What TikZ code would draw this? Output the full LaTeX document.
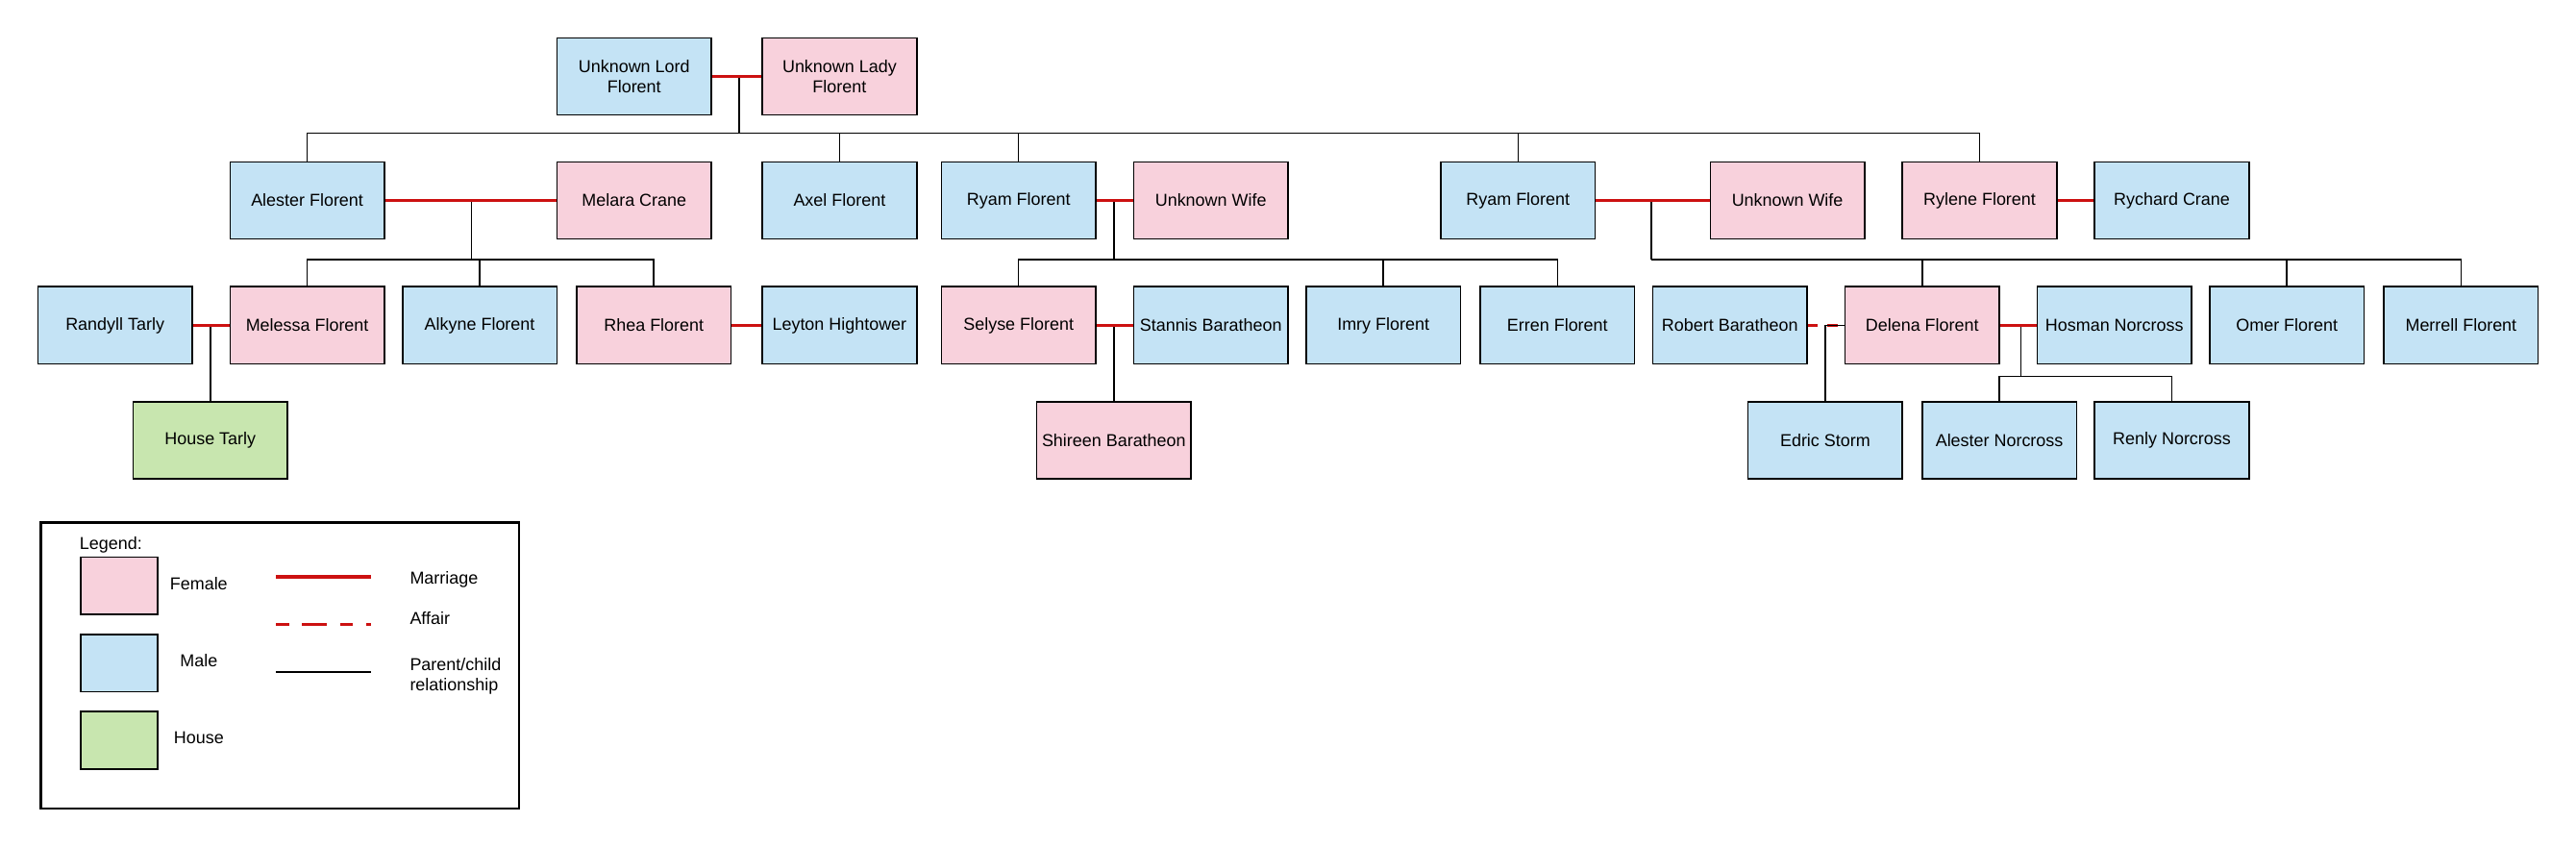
\documentclass[tikz,border=0pt]{standalone}
\usepackage{fontspec}
\setmainfont{Liberation Sans}
\begin{document}
\begin{tikzpicture}[x=1pt,y=-1pt,
  per/.style={draw=black,line width=0.9pt,minimum width=94pt,minimum height=47pt,inner sep=1pt,align=center,font=\fontsize{10.5}{12.5}\selectfont},
  fem/.style={per,fill=pinkc},
  mal/.style={per,fill=bluec},
  hou/.style={per,fill=greenc},
  mar/.style={draw=redc,line width=2.2pt},
  aff/.style={draw=redc,line width=1.6pt,dash pattern=on 6pt off 6pt},
  pc/.style={draw=black,line width=0.9pt},
  lbl/.style={font=\fontsize{10.5}{12.5}\selectfont,align=left}]
\definecolor{pinkc}{HTML}{F8D1DC}
\definecolor{bluec}{HTML}{C4E3F5}
\definecolor{greenc}{HTML}{C8E6AF}
\definecolor{redc}{HTML}{CC1111}
\useasboundingbox (0,0) rectangle (1568,515);
% row 1
\node[mal] (lord) at (386,46.5) {Unknown Lord\\Florent};
\node[fem] (lady) at (511,46.5) {Unknown Lady\\Florent};
% row 2
\node[mal] (alester) at (187,122) {Alester Florent};
\node[fem] (melara) at (386,122) {Melara Crane};
\node[mal] (axel) at (511,122) {Axel Florent};
\node[mal] (ryamA) at (620,122) {Ryam Florent};
\node[fem] (wifeA) at (737,122) {Unknown Wife};
\node[mal] (ryamB) at (924,122) {Ryam Florent};
\node[fem] (wifeB) at (1088,122) {Unknown Wife};
\node[fem] (rylene) at (1205,122) {Rylene Florent};
\node[mal] (rychard) at (1322,122) {Rychard Crane};
% row 3
\node[mal] (randyll) at (70,198) {Randyll Tarly};
\node[fem] (melessa) at (187,198) {Melessa Florent};
\node[mal] (alkyne) at (292,198) {Alkyne Florent};
\node[fem] (rhea) at (398,198) {Rhea Florent};
\node[mal] (leyton) at (511,198) {Leyton Hightower};
\node[fem] (selyse) at (620,198) {Selyse Florent};
\node[mal] (stannis) at (737,198) {Stannis Baratheon};
\node[mal] (imry) at (842,198) {Imry Florent};
\node[mal] (erren) at (948,198) {Erren Florent};
\node[mal] (robert) at (1053,198) {Robert Baratheon};
\node[fem] (delena) at (1170,198) {Delena Florent};
\node[mal] (hosman) at (1287,198) {Hosman Norcross};
\node[mal] (omer) at (1392,198) {Omer Florent};
\node[mal] (merrell) at (1498,198) {Merrell Florent};
% row 4
\node[hou] (tarly) at (128,268) {House Tarly};
\node[fem] (shireen) at (678,268) {Shireen Baratheon};
\node[mal] (edric) at (1111,268) {Edric Storm};
\node[mal] (alesterN) at (1217,268) {Alester Norcross};
\node[mal] (renly) at (1322,268) {Renly Norcross};
% top family
\draw[pc] (450,46.5) coordinate (m0) -- (450,81) coordinate (b0);
\draw[pc] (alester.north) |- (b0) -| (rylene.north);
\draw[pc] (axel.north) -- (axel.north |- b0);
\draw[pc] (ryamA.north) -- (ryamA.north |- b0);
\draw[pc] (ryamB.north) -- (ryamB.north |- b0);
\draw[mar] (lord.east) -- (lady.west);
% Alester + Melara
\draw[pc] (287,122) -- (287,158) coordinate (b1);
\draw[pc] (melessa.north) |- (b1) -| (rhea.north);
\draw[pc] (alkyne.north) -- (alkyne.north |- b1);
\draw[mar] (alester.east) -- (melara.west);
% Randyll + Melessa
\draw[pc] (128,198) -- (tarly.north);
\draw[mar] (randyll.east) -- (melessa.west);
\draw[mar] (rhea.east) -- (leyton.west);
% Ryam A
\draw[pc] (678,122) -- (678,158) coordinate (b2);
\draw[pc] (selyse.north) |- (b2) -| (erren.north);
\draw[pc] (imry.north) -- (imry.north |- b2);
\draw[mar] (ryamA.east) -- (wifeA.west);
\draw[pc] (678,198) -- (shireen.north);
\draw[mar] (selyse.east) -- (stannis.west);
% Ryam B
\draw[pc] (1005,122) -- (1005,158) coordinate (b3);
\draw[pc] (b3) -| (merrell.north);
\draw[pc] (delena.north) -- (delena.north |- b3);
\draw[pc] (omer.north) -- (omer.north |- b3);
\draw[mar] (ryamB.east) -- (wifeB.west);
\draw[mar] (rylene.east) -- (rychard.west);
% Delena
\draw[aff] (robert.east) -- (delena.west);
\draw[pc] (delena.west) -- (1111,198) -- (edric.north);
\draw[pc] (1230,198) -- (1230,229) coordinate (b4);
\draw[pc] (alesterN.north) |- (b4) -| (renly.north);
\draw[mar] (delena.east) -- (hosman.west);
% legend
\node[draw=black,line width=1.6pt,minimum width=291pt,minimum height=174pt,inner sep=0pt] (leg) at (170.5,405) {};
\node[lbl,anchor=west] (legt) at (45,331.5) {Legend:};
\node[draw=black,line width=0.9pt,fill=pinkc,minimum width=47pt,minimum height=35pt,inner sep=0pt] (sf) at (72.5,356.5) {};
\node[draw=black,line width=0.9pt,fill=bluec,minimum width=47pt,minimum height=35pt,inner sep=0pt] (sm) at (72.5,403.5) {};
\node[draw=black,line width=0.9pt,fill=greenc,minimum width=47pt,minimum height=35pt,inner sep=0pt] (sh) at (72.5,450.5) {};
\node[lbl] (tf) at (121,355) {Female};
\node[lbl] (tm) at (121,402) {Male};
\node[lbl] (th) at (121,449) {House};
\coordinate (l1a) at (168,351); \coordinate (l1b) at (226,351);
\coordinate (l2a) at (168,380); \coordinate (l2b) at (226,380);
\coordinate (l3a) at (168,409); \coordinate (l3b) at (226,409);
\draw[mar] (l1a) -- (l1b);
\draw[aff,dash pattern=on 8pt off 8pt on 15pt off 8pt] (l2a) -- (l2b);
\draw[draw=black,line width=1.6pt] (l3a) -- (l3b);
\node[lbl,anchor=west] (tmar) at (246,353) {Marriage};
\node[lbl,anchor=west] (taff) at (246,376) {Affair};
\node[lbl,anchor=west] (tpc) at (246,411.5) {Parent/child\\relationship};
\end{tikzpicture}
\end{document}
